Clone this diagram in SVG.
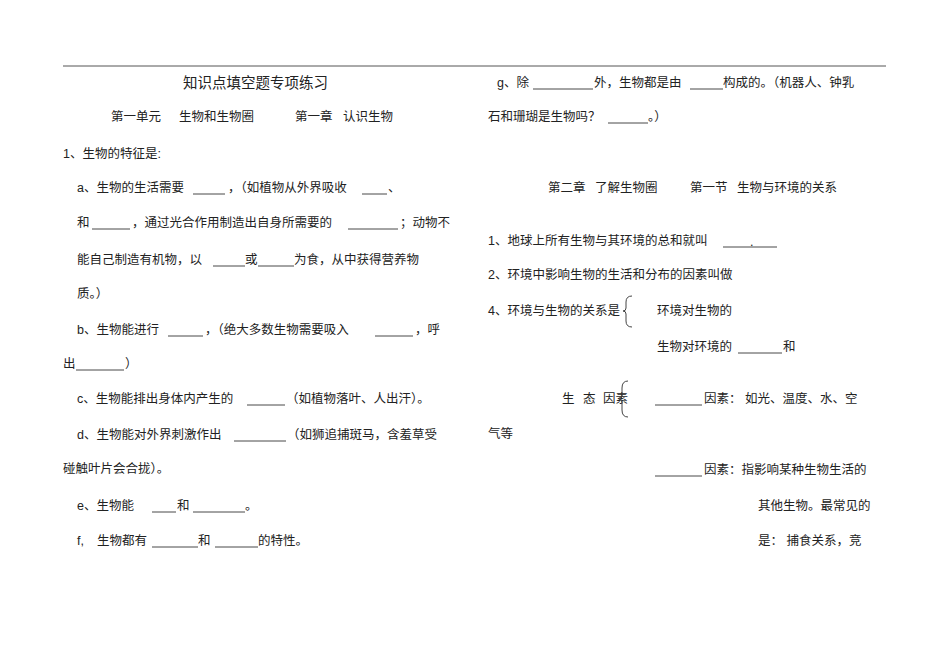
<svg xmlns="http://www.w3.org/2000/svg" width="950" height="672" viewBox="0 0 950 672">
<style>
text{font-family:"Liberation Sans","Noto Sans CJK SC",sans-serif;font-size:12.5px;fill:#222}
.t{font-size:14.5px}
.b{stroke:#333;stroke-width:0.9}
.br{fill:none;stroke:#444;stroke-width:1}
</style>
<rect width="950" height="672" fill="#fff"/>
<line x1="63" y1="66" x2="886" y2="66" stroke="#555" stroke-width="1"/>
<g id="left">
<text class="t" x="183" y="88">知识点填空题专项练习</text>
<text x="111" y="121">第一单元</text><text x="179" y="121">生物和生物圈</text><text x="295" y="121">第一章</text><text x="343" y="121">认识生物</text>
<text x="63" y="158">1、生物的特征是:</text>
<text x="77" y="192">a、生物的生活需要</text><line class="b" x1="193" y1="194" x2="225" y2="194"/><text x="228" y="192">，（如植物从外界吸收</text><line class="b" x1="362" y1="194" x2="387" y2="194"/><text x="388" y="192">、</text>
<text x="77" y="227">和</text><line class="b" x1="92" y1="229" x2="130" y2="229"/><text x="132" y="227">，通过光合作用制造出自身所需要的</text><line class="b" x1="348" y1="229" x2="398" y2="229"/><text x="400" y="227">；动物不</text>
<text x="77" y="264">能自己制造有机物，以</text><line class="b" x1="213" y1="266" x2="245" y2="266"/><text x="245" y="264">或</text><line class="b" x1="258" y1="266" x2="294" y2="266"/><text x="294" y="264">为食，从中获得营养物</text>
<text x="77" y="298">质。）</text>
<text x="77" y="334">b、生物能进行</text><line class="b" x1="168" y1="336" x2="203" y2="336"/><text x="205" y="334">，（绝大多数生物需要吸入</text><line class="b" x1="375" y1="336" x2="413" y2="336"/><text x="415" y="334">，呼</text>
<text x="63" y="368">出</text><line class="b" x1="76" y1="370" x2="124" y2="370"/><text x="125" y="368">）</text>
<text x="77" y="403">c、生物能排出身体内产生的</text><line class="b" x1="247" y1="405" x2="285" y2="405"/><text x="286" y="403">（如植物落叶、人出汗）。</text>
<text x="77" y="439">d、生物能对外界刺激作出</text><line class="b" x1="234" y1="441" x2="286" y2="441"/><text x="287" y="439">（如狮追捕斑马，含羞草受</text>
<text x="63" y="473">碰触叶片会合拢）。</text>
<text x="77" y="510">e、生物能</text><line class="b" x1="152" y1="512" x2="176" y2="512"/><text x="177" y="510">和</text><line class="b" x1="193" y1="512" x2="245" y2="512"/><text x="245" y="510">。</text>
<text x="77" y="545">f,</text><text x="97" y="545">生物都有</text><line class="b" x1="152" y1="547" x2="198" y2="547"/><text x="198" y="545">和</text><line class="b" x1="215" y1="547" x2="258" y2="547"/><text x="258" y="545">的特性。</text>
</g>
<g id="right">
<text x="497" y="87">g、除</text><line class="b" x1="533" y1="89" x2="593" y2="89"/><text x="594" y="87">外，生物都是由</text><line class="b" x1="690" y1="89" x2="723" y2="89"/><text x="723" y="87">构成的。（机器人、钟乳</text>
<text x="488" y="121">石和珊瑚是生物吗？</text><line class="b" x1="608" y1="123" x2="648" y2="123"/><text x="648" y="121">。）</text>
<text x="548" y="192">第二章</text><text x="595" y="192">了解生物圈</text><text x="690" y="192">第一节</text><text x="737" y="192">生物与环境的关系</text>
<text x="488" y="245">1、地球上所有生物与其环境的总和就叫</text><line class="b" x1="723" y1="247" x2="777" y2="247"/><text x="750" y="246">.</text>
<text x="488" y="279">2、环境中影响生物的生活和分布的因素叫做</text>
<text x="488" y="315">4、环境与生物的关系是</text>
<path class="br" d="M632,296 Q626,296 626,302 L626,308 Q626,311 623,311 Q626,311 626,314 L626,321 Q626,327 632,327"/>
<text x="657" y="315">环境对生物的</text>
<text x="657" y="351">生物对环境的</text><line class="b" x1="738" y1="353" x2="782" y2="353"/><text x="783" y="351">和</text>
<text x="562" y="403">生</text><text x="583" y="403">态</text><text x="603" y="403">因素</text>
<path class="br" d="M628,381 Q622,381 622,388 L622,396 Q622,399 619,399 Q622,399 622,402 L622,410 Q622,417 628,417"/>
<line class="b" x1="655" y1="405" x2="702" y2="405"/><text x="704" y="403">因素：  如光、温度、水、空</text>
<text x="488" y="438">气等</text>
<line class="b" x1="655" y1="476" x2="702" y2="476"/><text x="704" y="474">因素：指影响某种生物生活的</text>
<text x="758" y="510">其他生物。最常见的</text>
<text x="758" y="545">是：  捕食关系，竞</text>
</g>
</svg>
